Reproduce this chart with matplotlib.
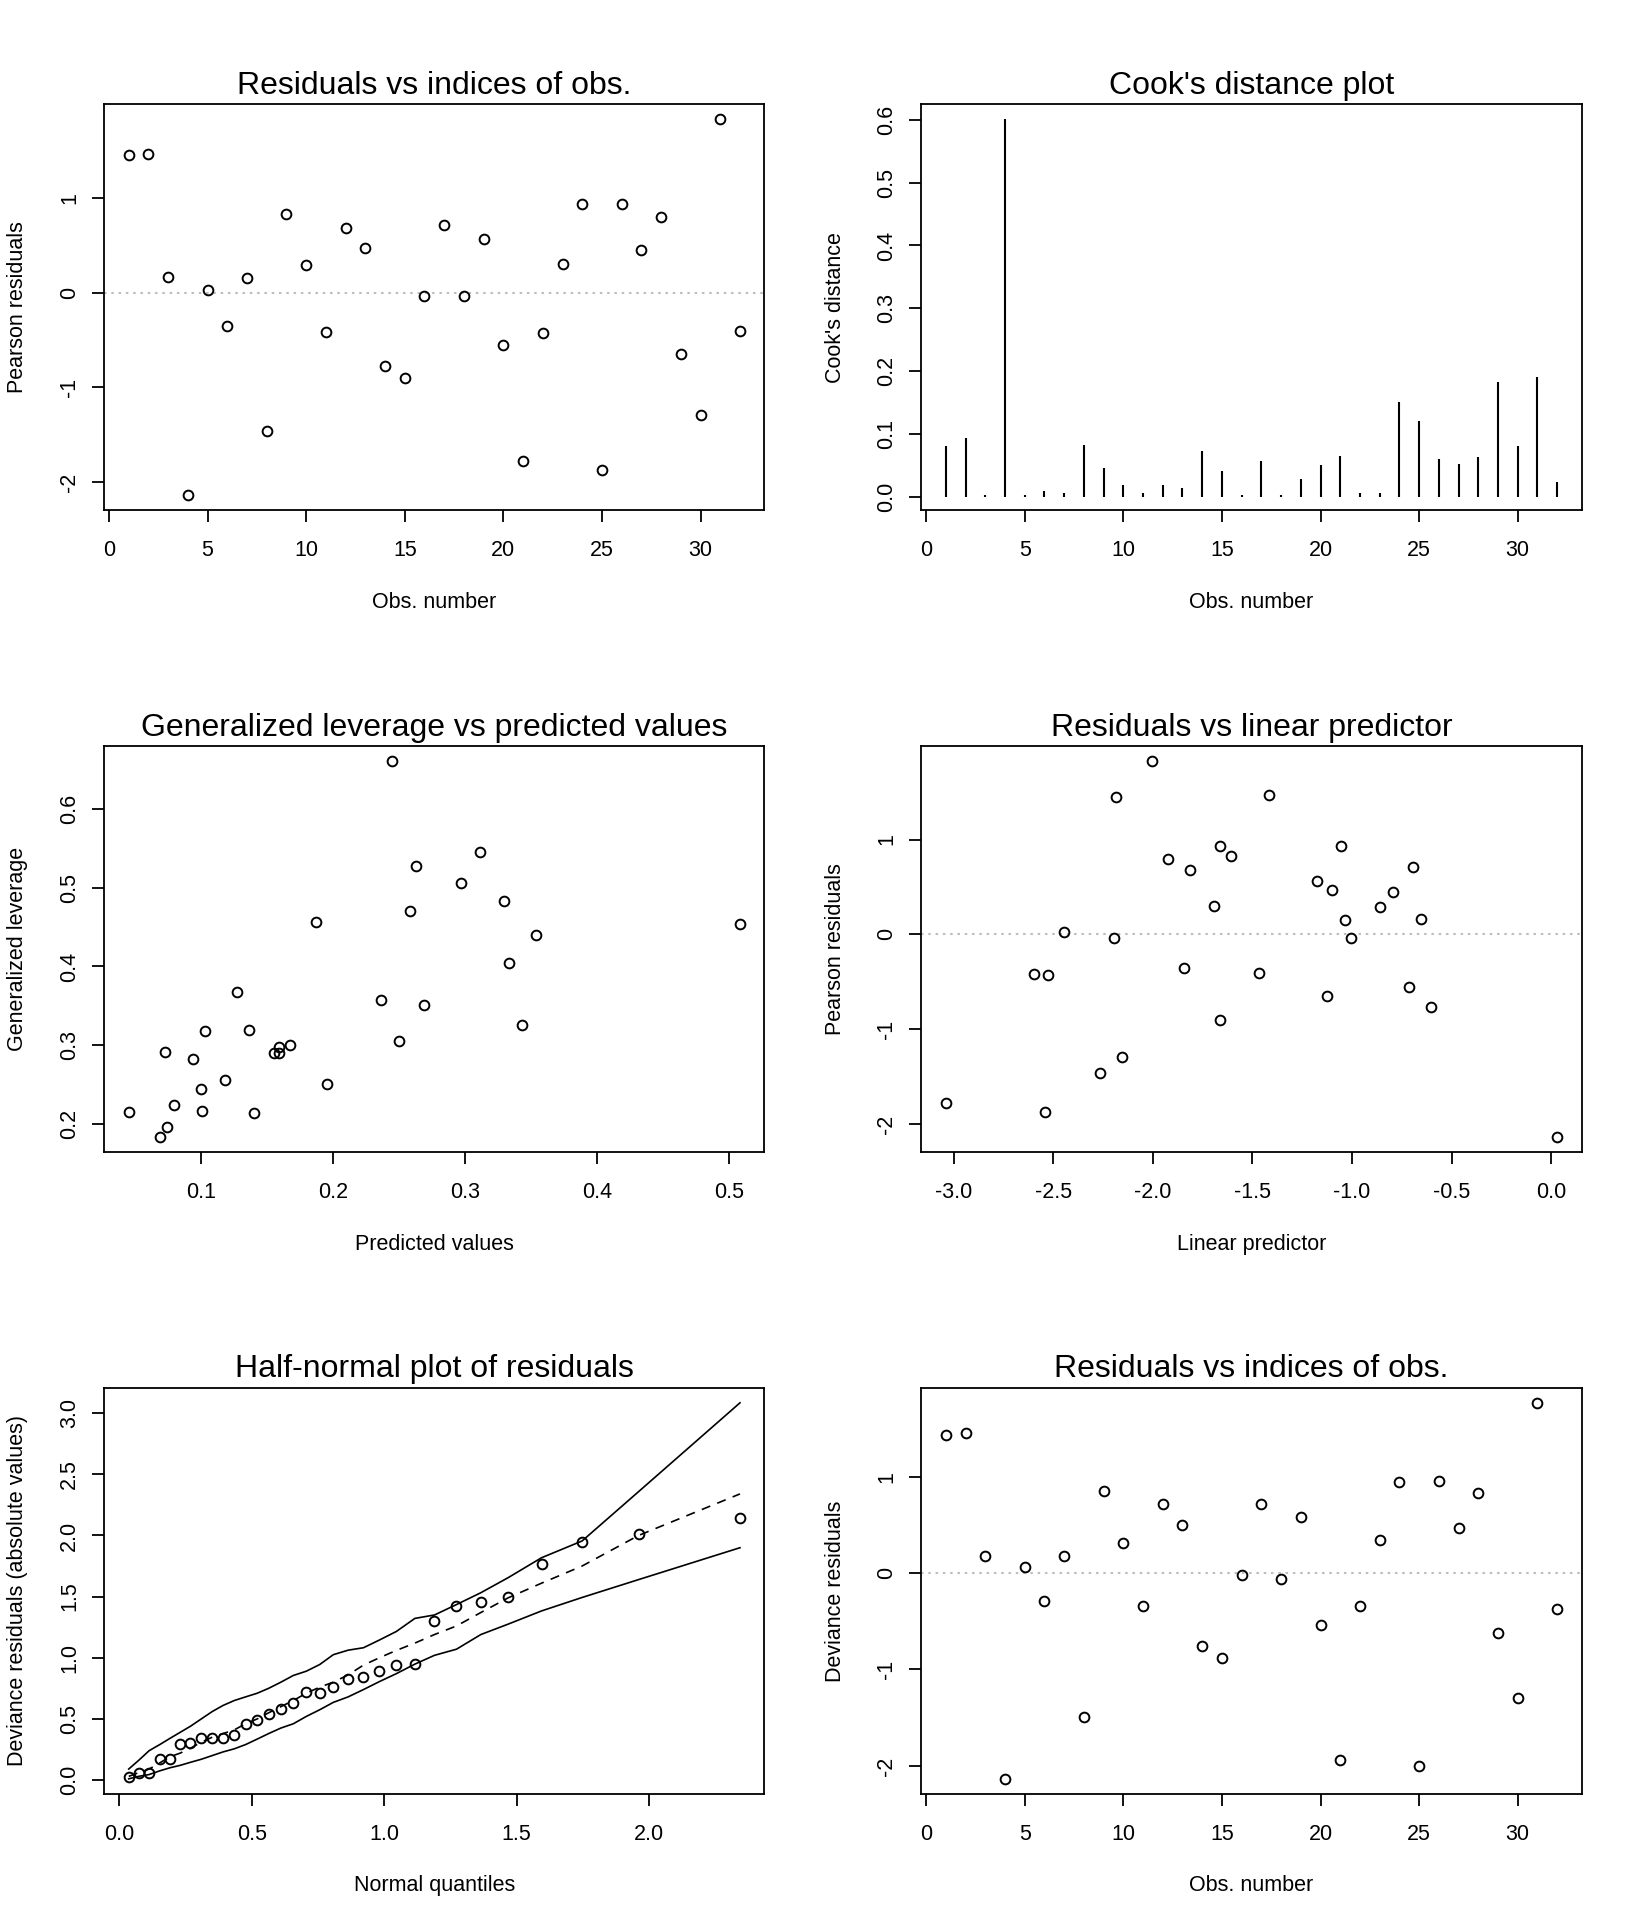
import numpy as np
import matplotlib
matplotlib.use('Agg')
import matplotlib.pyplot as plt
from matplotlib.ticker import FormatStrFormatter

plt.rcParams['font.family'] = ['Liberation Sans', 'DejaVu Sans']
plt.rcParams['axes.unicode_minus'] = False

# observation numbers 1..32
obs = list(range(1, 33))

pearson_res = [1.447, 1.466, 0.162, -2.139, 0.023, -0.350, 0.154, -1.459,
               0.823, 0.293, -0.421, 0.684, 0.470, -0.771, -0.906, -0.038,
               0.707, -0.038, 0.564, -0.553, -1.782, -0.425, 0.301, 0.936,
               -1.872, 0.936, 0.444, 0.797, -0.650, -1.289, 1.827, -0.406]

cooks_d = [0.080, 0.093, 0.002, 0.601, 0.002, 0.009, 0.006, 0.082,
           0.045, 0.018, 0.006, 0.018, 0.014, 0.073, 0.041, 0.002,
           0.057, 0.002, 0.028, 0.050, 0.064, 0.005, 0.006, 0.151,
           0.120, 0.060, 0.052, 0.063, 0.183, 0.080, 0.190, 0.023]

lin_pred = [-2.186, -1.419, -0.652, 0.029, -2.448, -1.846, -1.034, -2.264,
            -1.607, -0.861, -2.599, -1.812, -1.099, -0.605, -1.662, -2.194,
            -0.696, -1.005, -1.175, -0.715, -3.039, -2.524, -1.691, -1.662,
            -2.539, -1.055, -0.796, -1.924, -1.126, -2.157, -2.005, -1.469]

pred_vals = [0.2452, 0.3114, 0.2630, 0.2975, 0.3296, 0.2584, 0.1875, 0.5085,
             0.3536, 0.3335, 0.1271, 0.2367, 0.2688, 0.3436, 0.1035, 0.1364,
             0.2502, 0.1674, 0.1596, 0.1554, 0.1596, 0.0729, 0.0938, 0.1186,
             0.1953, 0.1004, 0.0795, 0.0454, 0.1012, 0.1403, 0.0741, 0.0690]
gen_leverage = [0.6606, 0.5448, 0.5271, 0.5063, 0.4837, 0.4701, 0.4570, 0.4538,
                0.4394, 0.4050, 0.3679, 0.3570, 0.3511, 0.3253, 0.3181, 0.3199,
                0.3054, 0.3009, 0.2982, 0.2900, 0.2900, 0.2910, 0.2819, 0.2557,
                0.2511, 0.2448, 0.2240, 0.2154, 0.2167, 0.2145, 0.1968, 0.1833]

dev_res = [1.429, 1.452, 0.176, -2.134, 0.061, -0.291, 0.180, -1.490,
           0.847, 0.310, -0.345, 0.716, 0.494, -0.759, -0.885, -0.023,
           0.716, -0.057, 0.586, -0.540, -1.943, -0.341, 0.341, 0.943,
           -2.004, 0.954, 0.464, 0.828, -0.625, -1.295, 1.766, -0.368]

# half-normal plot with simulated envelope
hn_quant = [0.036, 0.073, 0.113, 0.153, 0.191, 0.230, 0.269, 0.310,
            0.351, 0.392, 0.434, 0.477, 0.521, 0.564, 0.610, 0.657,
            0.706, 0.757, 0.808, 0.864, 0.922, 0.982, 1.046, 1.116,
            1.190, 1.273, 1.365, 1.468, 1.594, 1.747, 1.960, 2.343]
hn_absres = [0.022, 0.057, 0.060, 0.173, 0.174, 0.296, 0.305, 0.340,
             0.340, 0.343, 0.372, 0.456, 0.490, 0.540, 0.582, 0.627,
             0.716, 0.713, 0.758, 0.825, 0.842, 0.890, 0.942, 0.951,
             1.300, 1.426, 1.453, 1.493, 1.768, 1.950, 2.013, 2.140]
hn_lower = [0.010, 0.030, 0.045, 0.075, 0.100, 0.120, 0.145, 0.170,
            0.200, 0.230, 0.255, 0.290, 0.335, 0.380, 0.425, 0.460,
            0.520, 0.575, 0.635, 0.680, 0.740, 0.805, 0.870, 0.948,
            1.020, 1.070, 1.190, 1.275, 1.383, 1.493, 1.639, 1.900]
hn_median = [0.030, 0.060, 0.090, 0.140, 0.190, 0.220, 0.260, 0.310,
             0.350, 0.380, 0.410, 0.460, 0.500, 0.550, 0.600, 0.650,
             0.710, 0.760, 0.800, 0.860, 0.940, 1.000, 1.060, 1.120,
             1.190, 1.260, 1.370, 1.490, 1.610, 1.750, 2.000, 2.340]
hn_upper = [0.090, 0.160, 0.240, 0.290, 0.340, 0.390, 0.440, 0.500,
            0.560, 0.610, 0.650, 0.680, 0.710, 0.750, 0.800, 0.855,
            0.890, 0.945, 1.025, 1.062, 1.082, 1.145, 1.215, 1.322,
            1.350, 1.435, 1.532, 1.655, 1.818, 1.955, 2.358, 3.085]

obs_ticks = [0, 5, 10, 15, 20, 25, 30]
res_ticks = [-2, -1, 0, 1]

FS = 15.5
LW = 1.3


def r_limits(ax, xs, ys):
    # R pads the data range by 4% on each side
    xs = np.concatenate([np.ravel(v) for v in xs])
    ys = np.concatenate([np.ravel(v) for v in ys])
    dx = (xs.max() - xs.min()) * 0.04
    dy = (ys.max() - ys.min()) * 0.04
    ax.set_xlim(xs.min() - dx, xs.max() + dx)
    ax.set_ylim(ys.min() - dy, ys.max() + dy)


def r_axes(ax, title, xlab, ylab, xticks, yticks, xfmt=None, yfmt=None):
    for sp in ax.spines.values():
        sp.set_linewidth(LW)
    ax.set_xticks(xticks)
    ax.set_yticks(yticks)
    if xfmt:
        ax.xaxis.set_major_formatter(FormatStrFormatter(xfmt))
    if yfmt:
        ax.yaxis.set_major_formatter(FormatStrFormatter(yfmt))
    ax.tick_params(direction='out', length=8.5, width=LW, labelsize=FS)
    ax.tick_params(axis='x', pad=13)
    ax.tick_params(axis='y', pad=9, labelrotation=90)
    for lab in ax.get_yticklabels():
        lab.set_verticalalignment('center')
    ax.set_title(title, fontsize=23, pad=7.5)
    ax.set_xlabel(xlab, fontsize=FS, labelpad=22)
    ax.set_ylabel(ylab, fontsize=FS, labelpad=22)


def points(ax, x, y):
    ax.plot(x, y, 'o', ms=7, mfc='none', mec='black', mew=1.4)


def zero_line(ax):
    ax.axhline(0, color='#bebebe', lw=1.5, ls=(0, (1.2, 2.3)), zorder=1)


fig = plt.figure(figsize=(16.32, 19.2), dpi=100)
left_x, right_x, w = 0.0639, 0.5646, 0.4045
rows_y = [0.7342, 0.3999, 0.0657]
h = 0.2115

# residuals vs index
ax1 = fig.add_axes([left_x, rows_y[0], w, h])
zero_line(ax1)
points(ax1, obs, pearson_res)
r_limits(ax1, [obs], [pearson_res])
r_axes(ax1, 'Residuals vs indices of obs.', 'Obs. number', 'Pearson residuals',
       obs_ticks, res_ticks)

# Cook's distance
ax2 = fig.add_axes([right_x, rows_y[0], w, h])
ax2.vlines(obs, 0, cooks_d, color='black', lw=1.5)
r_limits(ax2, [obs], [cooks_d])
r_axes(ax2, "Cook's distance plot", 'Obs. number', "Cook's distance",
       obs_ticks, [0.0, 0.1, 0.2, 0.3, 0.4, 0.5, 0.6], yfmt='%.1f')

# leverage vs fitted
ax3 = fig.add_axes([left_x, rows_y[1], w, h])
points(ax3, pred_vals, gen_leverage)
r_limits(ax3, [pred_vals], [gen_leverage])
r_axes(ax3, 'Generalized leverage vs predicted values', 'Predicted values',
       'Generalized leverage', [0.1, 0.2, 0.3, 0.4, 0.5],
       [0.2, 0.3, 0.4, 0.5, 0.6], xfmt='%.1f', yfmt='%.1f')

# residuals vs linear predictor
ax4 = fig.add_axes([right_x, rows_y[1], w, h])
zero_line(ax4)
points(ax4, lin_pred, pearson_res)
r_limits(ax4, [lin_pred], [pearson_res])
r_axes(ax4, 'Residuals vs linear predictor', 'Linear predictor',
       'Pearson residuals', [-3.0, -2.5, -2.0, -1.5, -1.0, -0.5, 0.0],
       res_ticks, xfmt='%.1f')

# half-normal plot
ax5 = fig.add_axes([left_x, rows_y[2], w, h])
ax5.plot(hn_quant, hn_upper, color='black', lw=1.2)
ax5.plot(hn_quant, hn_lower, color='black', lw=1.2)
ax5.plot(hn_quant, hn_median, color='black', lw=1.2, ls=(0, (5.5, 4.5)))
points(ax5, hn_quant, hn_absres)
r_limits(ax5, [hn_quant], [hn_lower, hn_upper, hn_absres])
r_axes(ax5, 'Half-normal plot of residuals', 'Normal quantiles',
       'Deviance residuals (absolute values)', [0.0, 0.5, 1.0, 1.5, 2.0],
       [0.0, 0.5, 1.0, 1.5, 2.0, 2.5, 3.0], xfmt='%.1f', yfmt='%.1f')

# deviance residuals vs index
ax6 = fig.add_axes([right_x, rows_y[2], w, h])
zero_line(ax6)
points(ax6, obs, dev_res)
r_limits(ax6, [obs], [dev_res])
r_axes(ax6, 'Residuals vs indices of obs.', 'Obs. number', 'Deviance residuals',
       obs_ticks, res_ticks)

fig.savefig('out.png', dpi=100, facecolor='white')
